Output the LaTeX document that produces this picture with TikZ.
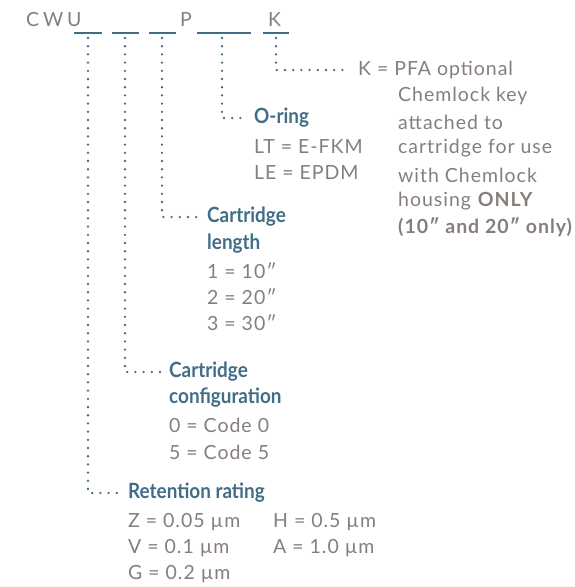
\documentclass[tikz,border=0pt]{standalone}
\usepackage{fontspec}
\setmainfont{Lato}[LetterSpace=5]
\newfontfamily\headfont{Lato}[FakeStretch=0.9]
\definecolor{codeblue}{HTML}{416E86}
\definecolor{txtgray}{HTML}{867E7B}
\begin{document}
\begin{tikzpicture}[x=1pt,y=-1pt,
    every node/.style={anchor=west,inner sep=0pt,text=txtgray,font=\fontsize{19.5}{22}\selectfont},
    head/.style={text=codeblue,font=\headfont\bfseries\fontsize{21}{24}\selectfont},
    dotline/.style={codeblue,line width=2.6pt,line cap=round,dash pattern=on 0pt off 8.2pt},
    uline/.style={codeblue,line width=1.6pt}]
    \useasboundingbox (0,0) rectangle (575,587);
    % part number
    \node (cwu) at (26,20) {\addfontfeature{LetterSpace=20}CWU};
    \node (p) at (180,20) {P};
    \node (k) at (268,20) {K};
    \draw[uline] (74,33) -- (102,33);
    \draw[uline] (112,33) -- (139,33);
    \draw[uline] (149,33) -- (176,33);
    \draw[uline] (197,33) -- (251,33);
    \draw[uline] (263,33) -- (289,33);
    \coordinate (s1) at (88,38);
    \coordinate (s2) at (125,38);
    \coordinate (s3) at (162,38);
    \coordinate (s4) at (222,38);
    \coordinate (s5) at (276,38);
    % K
    \node (key) at (358,70) {K = PFA optional};
    \node at (398,96) {Chemlock key};
    \node at (398,122) {attached to};
    \node at (398,148) {cartridge for use};
    \node at (398,175) {with Chemlock};
    \node at (398,201) {housing \textbf{ONLY}};
    \node at (398,227) {\bfseries (10″ and 20″ only)};
    % O-ring
    \node[head] (oring) at (254,118) {O-ring};
    \node at (254,147) {LT = E-FKM};
    \node at (254,173) {LE = EPDM};
    % length
    \node[head] (len) at (207,217) {Cartridge};
    \node[head] at (207,244) {length};
    \node at (207,271) {1 = 10″};
    \node at (207,297) {2 = 20″};
    \node at (207,323) {3 = 30″};
    % configuration
    \node[head] (conf) at (169,372) {Cartridge};
    \node[head] at (169,398) {configuration};
    \node at (169,425) {0 = Code 0};
    \node at (169,452) {5 = Code 5};
    % retention
    \node[head] (ret) at (128,493) {Retention rating};
    \node at (128,522) {Z = 0.05 µm};
    \node at (128,548) {V = 0.1 µm};
    \node at (128,574) {G = 0.2 µm};
    \node at (273,522) {H = 0.5 µm};
    \node at (273,548) {A = 1.0 µm};
    % leaders
    \draw[dotline,shorten >=8pt] (s1) |- (ret.west);
    \draw[dotline,shorten >=9pt] (s2) |- (conf.west);
    \draw[dotline,shorten >=10pt] (s3) |- (len.west);
    \draw[dotline,shorten >=11pt] (s4) |- (oring.west);
    \draw[dotline,shorten >=8pt] (s5) |- (key.west);
\end{tikzpicture}
\end{document}
